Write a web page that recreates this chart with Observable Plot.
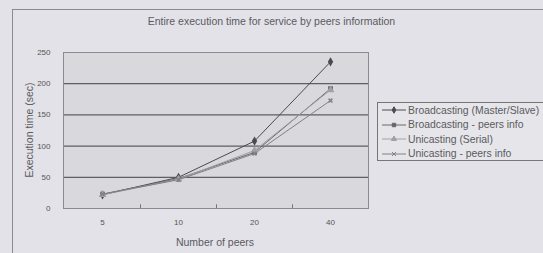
<!DOCTYPE html>
<html><head><meta charset="utf-8">
<script src="https://cdn.jsdelivr.net/npm/d3@7"></script>
<script src="https://cdn.jsdelivr.net/npm/@observablehq/plot@0.6"></script>
<style>
body{margin:0;background:#e3e2e8;font-family:"Liberation Sans",Arial,sans-serif;}
#wrap{position:relative;width:543px;height:253px;overflow:hidden;background:#e3e2e8;}
#frame{position:absolute;left:12px;top:9px;width:600px;height:300px;border:1.5px solid #8a8a90;box-sizing:border-box;}
#title{position:absolute;left:0;width:543px;top:15px;text-align:center;font-size:10.5px;color:#5a5a60;}
#chart{position:absolute;left:0;top:0;}
#ytitle{position:absolute;left:29px;top:130px;transform:translate(-50%,-50%) rotate(-90deg);font-size:10.5px;color:#5a5a60;white-space:nowrap;}
#xtitle{position:absolute;left:215px;top:242px;transform:translate(-50%,-50%);font-size:10.5px;color:#5a5a60;white-space:nowrap;}
#legend{position:absolute;left:377px;top:102px;width:200px;height:59px;border:1px solid #777;background:#e6e6ea;box-sizing:border-box;}
.row{position:absolute;left:0;height:14px;display:flex;align-items:center;font-size:10.4px;color:#5a5a60;white-space:nowrap;}
.row svg{margin-left:4px;margin-right:2px;}
</style></head>
<body>
<div id="wrap">
  <div id="frame"></div>
  <div id="title"></div>
  <div id="chart"></div>
  <div id="ytitle"></div>
  <div id="xtitle"></div>
  <div id="legend"></div>
</div>
<script>
const titleText = "Entire execution time for service by peers information";
const yTitle = "Execution time (sec)";
const xTitle = "Number of peers";
const peers = ["5", "10", "20", "40"];
const seriesNames = ["Broadcasting (Master/Slave)", "Broadcasting - peers info", "Unicasting (Serial)", "Unicasting - peers info"];
const broadcastMS = [22, 50, 108, 235];
const broadcastPeers = [23, 48, 90, 192];
const unicastSerial = [22, 47, 93, 190];
const unicastPeers = [23, 46, 88, 173];
const yTicks = [0, 50, 100, 150, 200, 250];

const seriesValues = [broadcastMS, broadcastPeers, unicastSerial, unicastPeers];
const colors = ["#4a4a50", "#66666c", "#a0a0a6", "#808086"];
const symbols = ["diamond", "square", "triangle", "times"];

const data = peers.flatMap((p, i) => seriesNames.map((s, k) => ({peer: p, series: s, value: seriesValues[k][i]})));

document.getElementById("title").textContent = titleText;
document.getElementById("ytitle").textContent = yTitle;
document.getElementById("xtitle").textContent = xTitle;

const chart = Plot.plot({
  width: 543, height: 253,
  marginLeft: 63, marginRight: 175, marginTop: 52, marginBottom: 45,
  style: {background: "transparent", fontFamily: "Liberation Sans, Arial, sans-serif", fontSize: "8px", color: "#555"},
  x: {type: "band", domain: peers, padding: 0, label: null},
  y: {domain: [0, 250], label: null},
  color: {domain: seriesNames, range: colors},
  symbol: {domain: seriesNames, range: symbols},
  marks: [
    Plot.frame({fill: "#d8d8dd", stroke: null}),
    Plot.gridY(yTicks.slice(1, 5), {stroke: "#5e5e64", strokeOpacity: 1, strokeWidth: 1.3}),
    Plot.frame({stroke: "#8a8a90"}),
    Plot.axisY({ticks: yTicks, tickSize: 0, tickPadding: 13, label: null}),
    Plot.axisX({tickSize: 0, tickPadding: 11, label: null}),
    Plot.ruleX(peers.slice(0, 3), {y1: 0, y2: 6, dx: 38, stroke: "#777"}),
    Plot.line(data, {x: "peer", y: "value", z: "series", stroke: "series", strokeWidth: 1}),
    Plot.dot(data, {x: "peer", y: "value", symbol: "series", fill: "series", stroke: "series", r: 1.9})
  ]
});
document.getElementById("chart").appendChild(chart);

const legend = document.getElementById("legend");
const symGen = d3.symbol().size(12);
const d3Syms = {diamond: d3.symbolDiamond, square: d3.symbolSquare, triangle: d3.symbolTriangle, times: d3.symbolTimes};
seriesNames.forEach((s, k) => {
  const row = document.createElement("div");
  row.className = "row";
  row.style.top = (0 + k * 14.5) + "px";
  const path = symGen.type(d3Syms[symbols[k]])();
  row.innerHTML = `<svg width="24" height="10"><line x1="0" x2="24" y1="5" y2="5" stroke="${colors[k]}" stroke-width="1"/><path transform="translate(12,5)" d="${path}" fill="${colors[k]}" stroke="${colors[k]}"/></svg><span></span>`;
  row.querySelector("span").textContent = s;
  legend.appendChild(row);
});
</script>
</body></html>
